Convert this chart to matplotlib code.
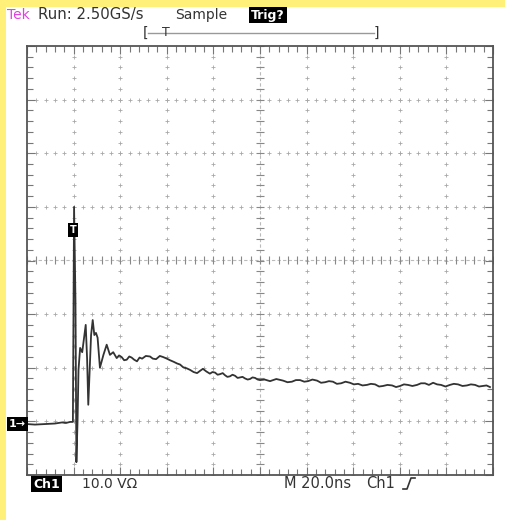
import matplotlib
matplotlib.use("Agg")
import matplotlib.pyplot as plt
from matplotlib.patches import Rectangle
from matplotlib.lines import Line2D
import numpy as np

time_ns = [0, 3.4, 7.7, 12.0, 15.0, 16.7, 18.5, 19.7,
           20.2, 20.8, 21.2, 21.7, 22.1, 22.8, 23.7, 24.5, 25.2, 25.8, 26.3, 26.8,
           27.5, 28.2, 28.9, 29.6, 30.3, 31.3, 32.8, 34.2, 35.6, 37.0, 38.5, 39.5,
           40.6, 41.7, 42.8, 43.9, 44.9, 46.0, 47.2, 48.3, 49.4, 51.0, 52.8, 54.0,
           55.4, 57.0, 58.4, 60.0, 61.4, 63.0, 64.4, 65.7, 67.0, 68.5, 70.0, 71.5,
           73.0, 74.2, 75.5, 77.0, 78.5, 79.6, 80.7, 81.8, 82.8, 84.0, 85.0, 86.0,
           87.1, 88.2, 89.3, 90.4, 91.4, 92.5, 93.6, 94.7, 95.7, 96.8, 97.9, 99.0,
           100.0, 102.0, 104.3, 107.0, 109.9, 111.8, 113.7, 115.4, 117.2, 119.0,
           120.6, 122.5, 124.5, 126.2, 127.9, 129.6, 131.3, 133.0, 134.8, 136.7,
           138.6, 140.3, 142.1, 144.0, 145.9, 147.6, 149.4, 151.1, 152.8, 154.7,
           156.7, 158.4, 160.1, 161.8, 163.5, 165.4, 167.4, 169.1, 170.8, 172.5,
           174.3, 176.0, 177.7, 179.6, 181.5, 183.2, 185.0, 186.9, 188.8, 190.5,
           192.3, 194.0, 195.7, 197.2, 198.7]
volts = [-0.1, -0.2, -0.1, 0.0, 0.2, 0.1, 0.3, 0.3,
         40.4, 23.0, -7.2, 0.6, 10.0, 14.1, 13.3, 16.0, 18.4, 12.0, 3.5, 9.0,
         16.5, 19.3, 16.5, 16.9, 16.0, 10.4, 12.8, 14.7, 12.8, 13.3, 12.2, 12.7,
         12.4, 11.8, 11.9, 12.5, 12.3, 11.9, 11.6, 12.3, 12.1, 12.6, 12.5, 12.1,
         12.0, 12.6, 12.4, 12.1, 11.8, 11.5, 11.2, 11.0, 10.5, 10.3, 10.0, 9.6,
         9.4, 9.8, 10.2, 9.7, 9.3, 9.6, 9.5, 9.1, 9.2, 9.4, 9.0, 8.7,
         8.8, 9.1, 8.9, 8.5, 8.6, 8.7, 8.4, 8.2, 8.3, 8.6, 8.5, 8.2,
         8.1, 8.2, 7.9, 8.3, 8.0, 7.7, 7.8, 8.1, 8.1, 7.8,
         7.9, 8.2, 8.0, 7.6, 7.7, 7.9, 7.8, 7.4, 7.5, 7.8,
         7.6, 7.3, 7.4, 7.1, 7.2, 7.4, 7.3, 6.9, 7.0, 7.2,
         7.1, 6.8, 7.0, 7.3, 7.2, 7.0, 7.2, 7.5, 7.5, 7.2,
         7.6, 7.3, 7.2, 6.9, 7.2, 7.4, 7.3, 7.0, 7.1, 7.3,
         7.2, 6.9, 7.0, 7.1, 6.8]

volts_per_div = 10.0
ns_per_div = 20.0
ground_div = -3.04   # ground marker position in divisions from centre

W, H = 506, 520
fig = plt.figure(figsize=(W / 100, H / 100), dpi=100)
fig.patch.set_facecolor("white")

def fx(x):
    return x / W

def fy(y):
    return 1 - y / H

yellow = "#FFF07A"
fig.patches.append(Rectangle((0, fy(7)), 1, 7 / H, transform=fig.transFigure,
                             facecolor=yellow, edgecolor="none", zorder=0))
fig.patches.append(Rectangle((0, 0), 6 / W, 1, transform=fig.transFigure,
                             facecolor=yellow, edgecolor="none", zorder=0))

ax = fig.add_axes([fx(27), fy(475), 466 / W, 429 / H])
ax.set_facecolor("white")
x0, x1 = 0, 10 * ns_per_div
y0 = (-4 - ground_div) * volts_per_div
y1 = (4 - ground_div) * volts_per_div
ax.set_xlim(x0, x1)
ax.set_ylim(y0, y1)

xmaj = np.arange(x0, x1 + 0.01, ns_per_div)
ymaj = y0 + np.arange(9) * volts_per_div
xmin = np.arange(x0, x1 + 0.01, ns_per_div / 5)
ymin = y0 + np.arange(41) * volts_per_div / 5
ax.set_xticks(xmaj)
ax.set_yticks(ymaj)
ax.set_xticks(xmin, minor=True)
ax.set_yticks(ymin, minor=True)
ax.tick_params(which="both", direction="in", top=True, right=True,
               labelbottom=False, labelleft=False, color="#777")
ax.tick_params(which="major", length=6, width=0.8)
ax.tick_params(which="minor", length=4, width=0.8)
for s in ax.spines.values():
    s.set_color("#555")
    s.set_linewidth(1.3)

xc = (x0 + x1) / 2
yc = (y0 + y1) / 2
gcol = "#a8a8a8"
# dotted graticule
for gx in xmaj[1:-1]:
    if abs(gx - xc) < 1e-6:
        continue
    ax.plot(np.full(len(ymin), gx), ymin, ls="none", marker="+", ms=3,
            mew=0.6, color=gcol, zorder=1)
for gy in ymaj[1:-1]:
    if abs(gy - yc) < 1e-6:
        continue
    ax.plot(xmin, np.full(len(xmin), gy), ls="none", marker="+", ms=3,
            mew=0.6, color=gcol, zorder=1)
# centre axes with ticks
ax.axvline(xc, color="#bbbbbb", lw=0.8, ls=(0, (3, 2)), zorder=1)
ax.axhline(yc, color="#bbbbbb", lw=0.8, ls=(0, (3, 2)), zorder=1)
ax.plot(np.full(len(ymin), xc), ymin, ls="none", marker="_", ms=6,
        mew=0.8, color="#888", zorder=1)
ax.plot(xmin, np.full(len(xmin), yc), ls="none", marker="|", ms=6,
        mew=0.8, color="#888", zorder=1)

# trace
ax.plot(time_ns, volts, color="#333333", lw=1.3, zorder=3)

# ---- screen annotations ----
fs = 10
tcol = "#333333"
fig.text(fx(7), fy(15), "Tek", color="#e040e0", fontsize=fs, va="center")
fig.text(fx(38), fy(15), "Run: 2.50GS/s", color=tcol, fontsize=fs + 0.7, va="center")
fig.text(fx(175), fy(15), "Sample", color=tcol, fontsize=fs, va="center")
fig.text(fx(251), fy(15), "Trig?", color="white", fontsize=fs - 1, va="center",
         fontweight="bold",
         bbox=dict(boxstyle="square,pad=0.15", facecolor="black", edgecolor="none"))

# record-length bar
fig.add_artist(Line2D([fx(148), fx(374)], [fy(33), fy(33)], color="#999", lw=1.0))
fig.text(fx(145), fy(33), "[", color=tcol, fontsize=fs, va="center", ha="center")
fig.text(fx(376), fy(33), "]", color=tcol, fontsize=fs, va="center", ha="center")
fig.text(fx(166), fy(33), "T", color=tcol, fontsize=fs - 1, va="center", ha="center")

# bottom readouts
fig.text(fx(33), fy(484), "Ch1", color="white", fontsize=fs - 1, va="center",
         fontweight="bold",
         bbox=dict(boxstyle="square,pad=0.15", facecolor="black", edgecolor="none"))
fig.text(fx(82), fy(484), "10.0 VΩ", color=tcol, fontsize=fs, va="center")
fig.text(fx(284), fy(484), "M 20.0ns", color=tcol, fontsize=fs + 0.5, va="center")
fig.text(fx(366), fy(484), "Ch1", color=tcol, fontsize=fs + 0.5, va="center")
fig.add_artist(Line2D([fx(403), fx(407), fx(411), fx(415)],
                      [fy(489), fy(489), fy(478), fy(478)], color=tcol, lw=1.2))

# ground marker and trigger marker
fig.text(fx(9), fy(424), "1→", color="white", fontsize=fs - 2, va="center",
         fontweight="bold",
         bbox=dict(boxstyle="square,pad=0.2", facecolor="black", edgecolor="none"))
fig.text(fx(73), fy(230), "T", color="white", fontsize=fs - 3, va="center",
         ha="center", fontweight="bold",
         bbox=dict(boxstyle="square,pad=0.2", facecolor="black", edgecolor="none"))

fig.savefig("out.png", dpi=100, facecolor=fig.get_facecolor())
